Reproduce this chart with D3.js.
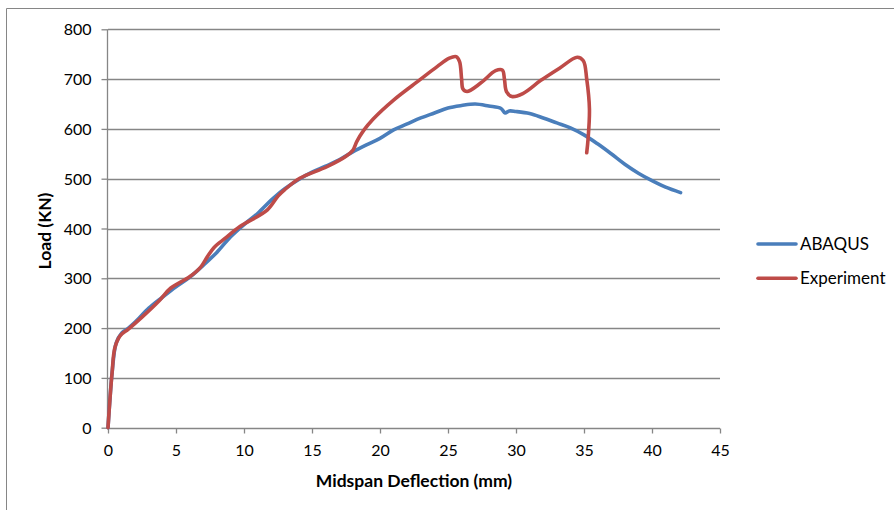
<!DOCTYPE html>
<html><head><meta charset="utf-8">
<script src="https://cdn.jsdelivr.net/npm/d3@7"></script>
<style>
body{margin:0;background:#fff;}
svg{display:block;font-family:Lato,"Open Sans",sans-serif;}
</style></head><body>
<svg id="c" width="894" height="510"></svg>
<script>
const xTicks=[0,5,10,15,20,25,30,35,40,45];
const yTicks=[0,100,200,300,400,500,600,700,800];
const seriesNames=["ABAQUS","Experiment"];
const abaqusX=[0,0.15,0.3,0.6,1,1.5,2,3,4,5,6,7,8,9,10,11,12,13,14,15,16,17,18,19,20,21,22,23,24,25,26,27,28,28.9,29.2,29.5,30,31,32,33,34,35,36,37,38,39,40,41,42.1];
const abaqusY=[0,60,110,170,190,200,212,240,262,283,302,326,352,383,408,430,457,480,498,513,525,538,554,568,581,598,610,622,632,642,647,650,646,641,632,636,635,631,622,612,602,588,570,550,529,511,496,483,472];
const expX=[0,0.15,0.3,0.5,0.9,1.5,2.5,3.8,4.6,6,6.8,7.3,7.8,8.6,9.7,11.7,12.5,13,14.1,16.1,17.5,18.0,18.3,18.8,19.5,21,22.9,24.2,25.1,25.6,25.85,26.0,26.1,26.4,27.4,28.5,29.0,29.15,29.3,29.7,30.5,31.8,33.2,34.5,34.95,35.2,35.4,35.3,35.2];
const expY=[0,60,110,160,185,198,222,256,280,303,322,343,362,380,404,437,465,478,501,524,545,557,575,597,620,658,698,725,742,745,735,700,680,675,692,717,718,700,675,665,671,697,722,744,737,700,640,580,552];
const colors=["#4a7ebb","#be4b48"];

const svg=d3.select("#c");
const L=108,R=720,T=29.3,B=427.7;
const x=d3.scaleLinear().domain([0,45]).range([L,R]);
const y=d3.scaleLinear().domain([0,800]).range([B,T]);
const grey="#868686";

// frame
svg.append("path").attr("d","M6.5,520 V8.5 H900").attr("fill","none").attr("stroke",grey).attr("stroke-width",1);

// gridlines
svg.append("g").selectAll("line").data(yTicks.filter(d=>d>0)).join("line")
 .attr("x1",L).attr("x2",R).attr("y1",d=>Math.round(y(d))+0.5).attr("y2",d=>Math.round(y(d))+0.5)
 .attr("stroke",grey).attr("stroke-width",1.3);

// axes
const xa=svg.append("g").attr("transform",`translate(0,${Math.round(B)+0.5})`)
 .call(d3.axisBottom(x).tickValues(xTicks).tickSize(5).tickPadding(11));
const ya=svg.append("g").attr("transform",`translate(${L-0.5},0)`)
 .call(d3.axisLeft(y).tickValues(yTicks).tickSize(6).tickPadding(10));
[xa,ya].forEach(a=>{
 a.select(".domain").attr("stroke",grey).attr("stroke-width",1.3);
 a.selectAll(".tick line").attr("stroke",grey).attr("stroke-width",1.3);
 a.selectAll("text").attr("font-family","Lato,sans-serif").attr("font-size",16).attr("fill","#000");
});
xa.select(".domain").attr("d",`M${L},0H${R}`);
ya.select(".domain").attr("d",`M0,${B}V${T}`);
ya.selectAll("text").attr("dy","0.35em");

// titles
svg.append("text").attr("x",414).attr("y",487).attr("text-anchor","middle")
 .attr("font-size",17.5).attr("font-weight","bold").text("Midspan Deflection (mm)");
svg.append("text").attr("transform","translate(51,231) rotate(-90)").attr("text-anchor","middle")
 .attr("font-size",17.5).attr("font-weight","bold").text("Load (KN)");

// lines
const line=d3.line().x(d=>x(d[0])).y(d=>y(d[1])).curve(d3.curveCatmullRom.alpha(0.5));
const data=[d3.zip(abaqusX,abaqusY),d3.zip(expX,expY)];
data.forEach((pts,i)=>{
 svg.append("path").datum(pts).attr("d",line).attr("fill","none")
  .attr("stroke",colors[i]).attr("stroke-width",3.6).attr("stroke-linejoin","round").attr("stroke-linecap","round");
});

// legend
const lg=svg.append("g");
seriesNames.forEach((n,i)=>{
 const yy=244+i*34.3;
 lg.append("line").attr("x1",758).attr("x2",796).attr("y1",yy).attr("y2",yy)
  .attr("stroke",colors[i]).attr("stroke-width",3.6).attr("stroke-linecap","round");
 lg.append("text").attr("x",800).attr("y",yy).attr("dy","0.35em").attr("font-size",17).text(n);
});
</script>
</body></html>
